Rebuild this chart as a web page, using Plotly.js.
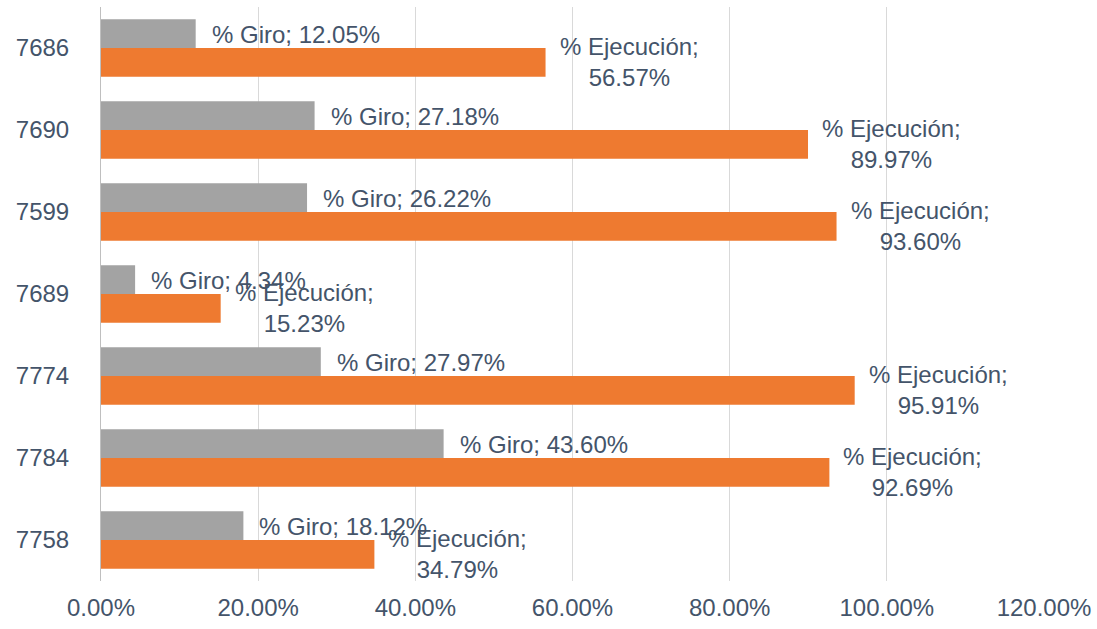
<!DOCTYPE html>
<html>
<head>
<meta charset="utf-8">
<script src="https://cdn.plot.ly/plotly-3.0.1.min.js"></script>
<style>html,body{margin:0;padding:0;background:#fff;}#chart{width:1097px;height:629px;}</style>
</head>
<body>
<div id="chart"></div>
<script>
const categories = ['7686','7690','7599','7689','7774','7784','7758'];
const giro = [12.05, 27.18, 26.22, 4.34, 27.97, 43.60, 18.12];
const ejecucion = [56.57, 89.97, 93.60, 15.23, 95.91, 92.69, 34.79];
const tickVals = [0, 0.2, 0.4, 0.6, 0.8, 1.0, 1.2];

const textColor = '#44546a';
const fontFam = '"Liberation Sans", Arial, sans-serif';

const traceGiro = {
  type: 'bar', orientation: 'h', name: '% Giro',
  y: categories, x: giro.map(v => v / 100),
  marker: {color: '#a3a3a3'},
  hoverinfo: 'none'
};
const traceEjec = {
  type: 'bar', orientation: 'h', name: '% Ejecución',
  y: categories, x: ejecucion.map(v => v / 100),
  marker: {color: '#ee7a30'},
  hoverinfo: 'none'
};

const annotations = [];
categories.forEach((c, i) => {
  annotations.push({
    x: giro[i] / 100, y: i, xref: 'x', yref: 'y',
    text: '% Giro; ' + giro[i].toFixed(2) + '%',
    showarrow: false, xanchor: 'left', yanchor: 'middle',
    xshift: 14, yshift: 14,
    font: {family: fontFam, size: 24, color: textColor}
  });
  annotations.push({
    x: ejecucion[i] / 100, y: i, xref: 'x', yref: 'y',
    text: '% Ejecución;<br>' + ejecucion[i].toFixed(2) + '%',
    showarrow: false, xanchor: 'left', yanchor: 'middle', align: 'center',
    xshift: 12, yshift: -14,
    font: {family: fontFam, size: 24, color: textColor}
  });
});

const layout = {
  width: 1097, height: 629,
  margin: {l: 101, r: 53, t: 7, b: 48, pad: 0},
  paper_bgcolor: '#ffffff', plot_bgcolor: '#ffffff',
  barmode: 'group', bargap: 0.3, bargroupgap: 0,
  showlegend: false,
  font: {family: fontFam, size: 24, color: textColor},
  xaxis: {
    range: [0, 1.2], tickvals: tickVals, tickformat: '.2%',
    showgrid: true, gridcolor: '#d9d9d9', gridwidth: 1,
    zeroline: false, showline: false, ticks: '',
    ticklabelstandoff: 10,
    tickfont: {family: fontFam, size: 24, color: textColor},
    fixedrange: true
  },
  yaxis: {
    type: 'category', categoryorder: 'array', categoryarray: categories,
    range: [categories.length - 0.5, -0.5],
    showgrid: false, zeroline: false,
    showline: true, linecolor: '#bfbfbf', linewidth: 1,
    ticks: '', ticklabelstandoff: 26,
    tickfont: {family: fontFam, size: 24, color: textColor},
    fixedrange: true
  },
  annotations: annotations
};

Plotly.newPlot('chart', [traceGiro, traceEjec], layout, {displayModeBar: false, staticPlot: true});
</script>
</body>
</html>
